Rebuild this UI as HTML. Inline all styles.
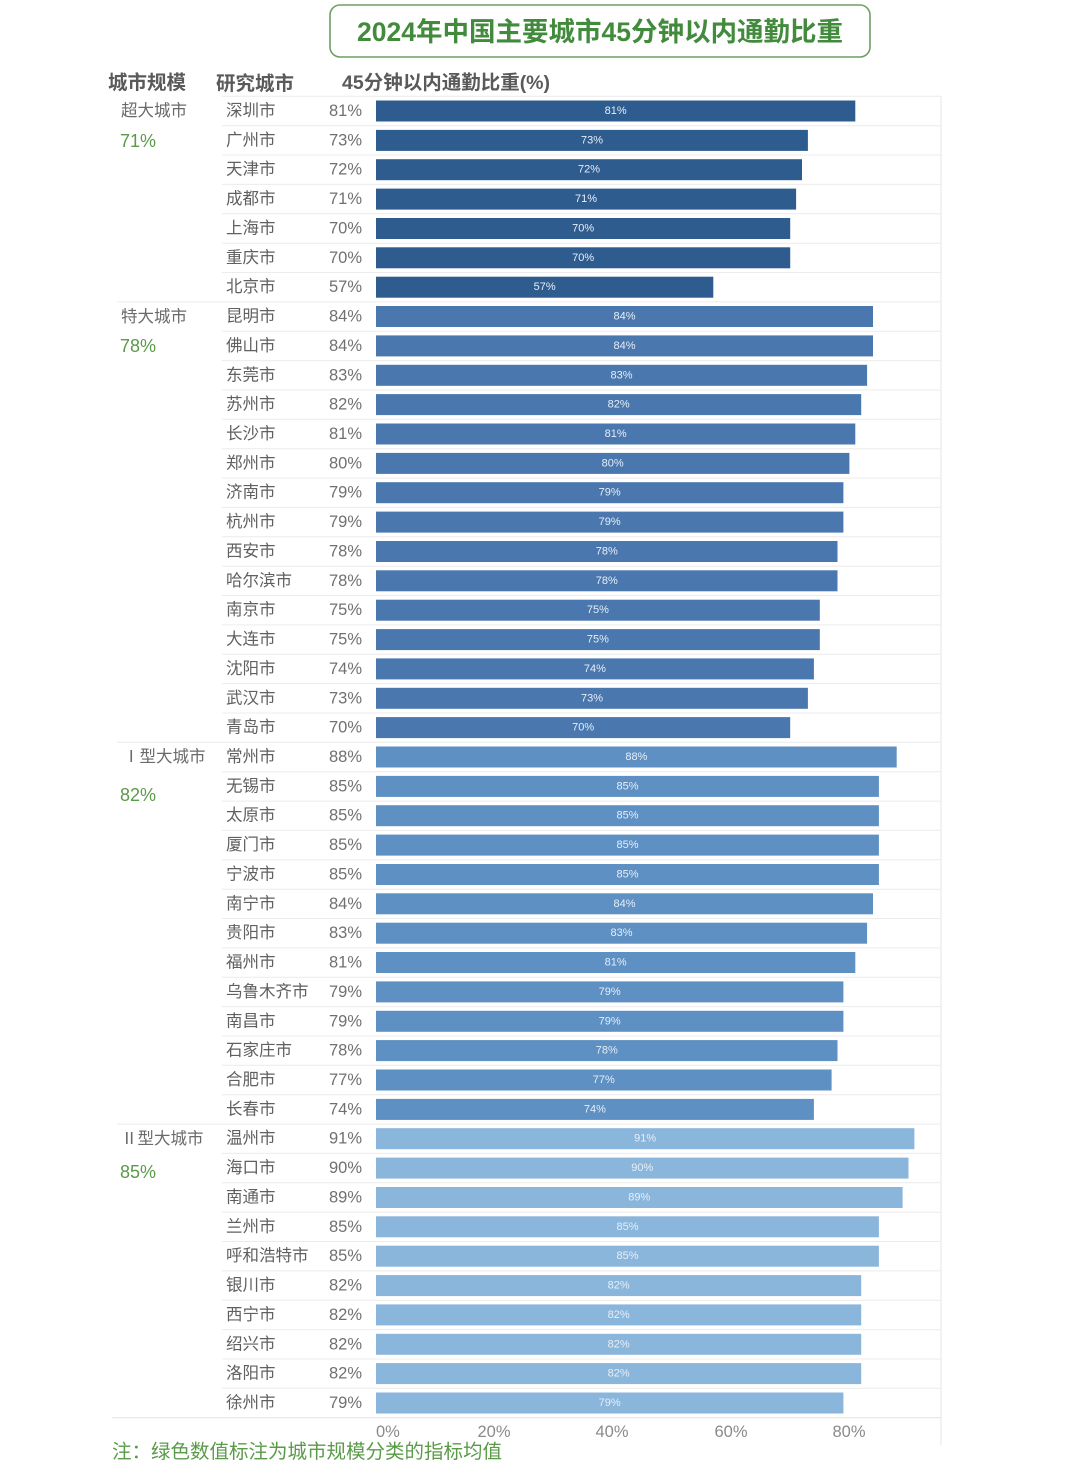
<!DOCTYPE html>
<html>
<head>
<meta charset="utf-8">
<style>
html,body{margin:0;padding:0;background:#fff;}
svg{display:block;}
text{font-family:"Liberation Sans","Noto Sans CJK SC",sans-serif;dominant-baseline:central;}
.c{font-size:16.5px;fill:#606060;}
.v{font-size:16.5px;fill:#707070;text-anchor:end;}
.b{font-size:11px;fill:#e6eef7;text-anchor:middle;}
.g{font-size:16.5px;fill:#6a6a6a;}
.p{font-size:18px;fill:#5a9a48;}
.h{font-size:19.5px;font-weight:bold;fill:#5a5a5a;}
.t{font-size:16.5px;fill:#8a8a8a;}
.s{stroke:#ececec;stroke-width:1;}
.c1{fill:#2f5c8f;}
.c2{fill:#4a78ae;}
.c3{fill:#5e90c3;}
.c4{fill:#8bb6dc;}
</style>
</head>
<body>
<svg width="1080" height="1474" viewBox="0 0 1080 1474" xmlns="http://www.w3.org/2000/svg">
<rect x="0" y="0" width="1080" height="1474" fill="#fff"/>
<!-- title -->
<rect x="330" y="5" width="540" height="52" rx="10" ry="10" fill="#fff" stroke="#6f9d62" stroke-width="1.6"/>
<text x="600" y="32" text-anchor="middle" style="font-size:26.5px;font-weight:bold;fill:#428a3c;">2024年中国主要城市45分钟以内通勤比重</text>
<!-- headers -->
<text x="108" y="83" class="h">城市规模</text>
<text x="216" y="84" class="h">研究城市</text>
<text x="342" y="83" class="h">45分钟以内通勤比重(%)</text>

<!-- grid lines -->
<line x1="941" y1="96" x2="941" y2="1445" stroke="#e4e4e4" stroke-width="1"/>
<line x1="222" y1="96.3" x2="941" y2="96.3" class="s"/>
<line x1="222" y1="125.7" x2="941" y2="125.7" class="s"/>
<line x1="222" y1="155.0" x2="941" y2="155.0" class="s"/>
<line x1="222" y1="184.4" x2="941" y2="184.4" class="s"/>
<line x1="222" y1="213.8" x2="941" y2="213.8" class="s"/>
<line x1="222" y1="243.2" x2="941" y2="243.2" class="s"/>
<line x1="222" y1="272.5" x2="941" y2="272.5" class="s"/>
<line x1="117" y1="301.9" x2="941" y2="301.9" class="s"/>
<line x1="222" y1="331.2" x2="941" y2="331.2" class="s"/>
<line x1="222" y1="360.6" x2="941" y2="360.6" class="s"/>
<line x1="222" y1="390.0" x2="941" y2="390.0" class="s"/>
<line x1="222" y1="419.3" x2="941" y2="419.3" class="s"/>
<line x1="222" y1="448.7" x2="941" y2="448.7" class="s"/>
<line x1="222" y1="478.1" x2="941" y2="478.1" class="s"/>
<line x1="222" y1="507.4" x2="941" y2="507.4" class="s"/>
<line x1="222" y1="536.8" x2="941" y2="536.8" class="s"/>
<line x1="222" y1="566.2" x2="941" y2="566.2" class="s"/>
<line x1="222" y1="595.5" x2="941" y2="595.5" class="s"/>
<line x1="222" y1="624.9" x2="941" y2="624.9" class="s"/>
<line x1="222" y1="654.3" x2="941" y2="654.3" class="s"/>
<line x1="222" y1="683.6" x2="941" y2="683.6" class="s"/>
<line x1="222" y1="713.0" x2="941" y2="713.0" class="s"/>
<line x1="117" y1="742.3" x2="941" y2="742.3" class="s"/>
<line x1="222" y1="771.7" x2="941" y2="771.7" class="s"/>
<line x1="222" y1="801.1" x2="941" y2="801.1" class="s"/>
<line x1="222" y1="830.4" x2="941" y2="830.4" class="s"/>
<line x1="222" y1="859.8" x2="941" y2="859.8" class="s"/>
<line x1="222" y1="889.2" x2="941" y2="889.2" class="s"/>
<line x1="222" y1="918.5" x2="941" y2="918.5" class="s"/>
<line x1="222" y1="947.9" x2="941" y2="947.9" class="s"/>
<line x1="222" y1="977.2" x2="941" y2="977.2" class="s"/>
<line x1="222" y1="1006.6" x2="941" y2="1006.6" class="s"/>
<line x1="222" y1="1036.0" x2="941" y2="1036.0" class="s"/>
<line x1="222" y1="1065.3" x2="941" y2="1065.3" class="s"/>
<line x1="222" y1="1094.7" x2="941" y2="1094.7" class="s"/>
<line x1="117" y1="1124.1" x2="941" y2="1124.1" class="s"/>
<line x1="222" y1="1153.4" x2="941" y2="1153.4" class="s"/>
<line x1="222" y1="1182.8" x2="941" y2="1182.8" class="s"/>
<line x1="222" y1="1212.2" x2="941" y2="1212.2" class="s"/>
<line x1="222" y1="1241.5" x2="941" y2="1241.5" class="s"/>
<line x1="222" y1="1270.9" x2="941" y2="1270.9" class="s"/>
<line x1="222" y1="1300.3" x2="941" y2="1300.3" class="s"/>
<line x1="222" y1="1329.6" x2="941" y2="1329.6" class="s"/>
<line x1="222" y1="1359.0" x2="941" y2="1359.0" class="s"/>
<line x1="222" y1="1388.3" x2="941" y2="1388.3" class="s"/>
<line x1="112" y1="1417.7" x2="941" y2="1417.7" stroke="#e2e2e2" stroke-width="1"/>

<!-- group labels -->
<text x="121" y="111" class="g">超大城市</text>
<text x="120" y="141" class="p">71%</text>
<text x="121" y="317" class="g">特大城市</text>
<text x="120" y="346" class="p">78%</text>
<text x="123" y="757" class="g">Ⅰ型大城市</text>
<text x="120" y="795" class="p">82%</text>
<text x="121" y="1139" class="g">Ⅱ型大城市</text>
<text x="120" y="1172" class="p">85%</text>

<!-- Group 1 -->
<text x="226" y="111.0" class="c">深圳市</text><text x="362" y="111.0" class="v">81%</text><rect x="376" y="100.5" width="479.3" height="21" class="c1"/><text x="615.6" y="111.0" class="b">81%</text>
<text x="226" y="140.4" class="c">广州市</text><text x="362" y="140.4" class="v">73%</text><rect x="376" y="129.9" width="431.9" height="21" class="c1"/><text x="592.0" y="140.4" class="b">73%</text>
<text x="226" y="169.7" class="c">天津市</text><text x="362" y="169.7" class="v">72%</text><rect x="376" y="159.2" width="426.0" height="21" class="c1"/><text x="589.0" y="169.7" class="b">72%</text>
<text x="226" y="199.1" class="c">成都市</text><text x="362" y="199.1" class="v">71%</text><rect x="376" y="188.6" width="420.1" height="21" class="c1"/><text x="586.0" y="199.1" class="b">71%</text>
<text x="226" y="228.5" class="c">上海市</text><text x="362" y="228.5" class="v">70%</text><rect x="376" y="218.0" width="414.2" height="21" class="c1"/><text x="583.1" y="228.5" class="b">70%</text>
<text x="226" y="257.8" class="c">重庆市</text><text x="362" y="257.8" class="v">70%</text><rect x="376" y="247.3" width="414.2" height="21" class="c1"/><text x="583.1" y="257.8" class="b">70%</text>
<text x="226" y="287.2" class="c">北京市</text><text x="362" y="287.2" class="v">57%</text><rect x="376" y="276.7" width="337.3" height="21" class="c1"/><text x="544.6" y="287.2" class="b">57%</text>

<!-- Group 2 -->
<text x="226" y="316.5" class="c">昆明市</text><text x="362" y="316.5" class="v">84%</text><rect x="376" y="306.0" width="497.0" height="21" class="c2"/><text x="624.5" y="316.5" class="b">84%</text>
<text x="226" y="345.9" class="c">佛山市</text><text x="362" y="345.9" class="v">84%</text><rect x="376" y="335.4" width="497.0" height="21" class="c2"/><text x="624.5" y="345.9" class="b">84%</text>
<text x="226" y="375.3" class="c">东莞市</text><text x="362" y="375.3" class="v">83%</text><rect x="376" y="364.8" width="491.1" height="21" class="c2"/><text x="621.5" y="375.3" class="b">83%</text>
<text x="226" y="404.6" class="c">苏州市</text><text x="362" y="404.6" class="v">82%</text><rect x="376" y="394.1" width="485.2" height="21" class="c2"/><text x="618.6" y="404.6" class="b">82%</text>
<text x="226" y="434.0" class="c">长沙市</text><text x="362" y="434.0" class="v">81%</text><rect x="376" y="423.5" width="479.3" height="21" class="c2"/><text x="615.6" y="434.0" class="b">81%</text>
<text x="226" y="463.4" class="c">郑州市</text><text x="362" y="463.4" class="v">80%</text><rect x="376" y="452.9" width="473.4" height="21" class="c2"/><text x="612.7" y="463.4" class="b">80%</text>
<text x="226" y="492.7" class="c">济南市</text><text x="362" y="492.7" class="v">79%</text><rect x="376" y="482.2" width="467.4" height="21" class="c2"/><text x="609.7" y="492.7" class="b">79%</text>
<text x="226" y="522.1" class="c">杭州市</text><text x="362" y="522.1" class="v">79%</text><rect x="376" y="511.6" width="467.4" height="21" class="c2"/><text x="609.7" y="522.1" class="b">79%</text>
<text x="226" y="551.5" class="c">西安市</text><text x="362" y="551.5" class="v">78%</text><rect x="376" y="541.0" width="461.5" height="21" class="c2"/><text x="606.8" y="551.5" class="b">78%</text>
<text x="226" y="580.8" class="c">哈尔滨市</text><text x="362" y="580.8" class="v">78%</text><rect x="376" y="570.3" width="461.5" height="21" class="c2"/><text x="606.8" y="580.8" class="b">78%</text>
<text x="226" y="610.2" class="c">南京市</text><text x="362" y="610.2" class="v">75%</text><rect x="376" y="599.7" width="443.8" height="21" class="c2"/><text x="597.9" y="610.2" class="b">75%</text>
<text x="226" y="639.6" class="c">大连市</text><text x="362" y="639.6" class="v">75%</text><rect x="376" y="629.1" width="443.8" height="21" class="c2"/><text x="597.9" y="639.6" class="b">75%</text>
<text x="226" y="668.9" class="c">沈阳市</text><text x="362" y="668.9" class="v">74%</text><rect x="376" y="658.4" width="437.9" height="21" class="c2"/><text x="594.9" y="668.9" class="b">74%</text>
<text x="226" y="698.3" class="c">武汉市</text><text x="362" y="698.3" class="v">73%</text><rect x="376" y="687.8" width="431.9" height="21" class="c2"/><text x="592.0" y="698.3" class="b">73%</text>
<text x="226" y="727.6" class="c">青岛市</text><text x="362" y="727.6" class="v">70%</text><rect x="376" y="717.1" width="414.2" height="21" class="c2"/><text x="583.1" y="727.6" class="b">70%</text>

<!-- Group 3 -->
<text x="226" y="757.0" class="c">常州市</text><text x="362" y="757.0" class="v">88%</text><rect x="376" y="746.5" width="520.7" height="21" class="c3"/><text x="636.4" y="757.0" class="b">88%</text>
<text x="226" y="786.4" class="c">无锡市</text><text x="362" y="786.4" class="v">85%</text><rect x="376" y="775.9" width="502.9" height="21" class="c3"/><text x="627.5" y="786.4" class="b">85%</text>
<text x="226" y="815.7" class="c">太原市</text><text x="362" y="815.7" class="v">85%</text><rect x="376" y="805.2" width="502.9" height="21" class="c3"/><text x="627.5" y="815.7" class="b">85%</text>
<text x="226" y="845.1" class="c">厦门市</text><text x="362" y="845.1" class="v">85%</text><rect x="376" y="834.6" width="502.9" height="21" class="c3"/><text x="627.5" y="845.1" class="b">85%</text>
<text x="226" y="874.5" class="c">宁波市</text><text x="362" y="874.5" class="v">85%</text><rect x="376" y="864.0" width="502.9" height="21" class="c3"/><text x="627.5" y="874.5" class="b">85%</text>
<text x="226" y="903.8" class="c">南宁市</text><text x="362" y="903.8" class="v">84%</text><rect x="376" y="893.3" width="497.0" height="21" class="c3"/><text x="624.5" y="903.8" class="b">84%</text>
<text x="226" y="933.2" class="c">贵阳市</text><text x="362" y="933.2" class="v">83%</text><rect x="376" y="922.7" width="491.1" height="21" class="c3"/><text x="621.5" y="933.2" class="b">83%</text>
<text x="226" y="962.5" class="c">福州市</text><text x="362" y="962.5" class="v">81%</text><rect x="376" y="952.0" width="479.3" height="21" class="c3"/><text x="615.6" y="962.5" class="b">81%</text>
<text x="226" y="991.9" class="c">乌鲁木齐市</text><text x="362" y="991.9" class="v">79%</text><rect x="376" y="981.4" width="467.4" height="21" class="c3"/><text x="609.7" y="991.9" class="b">79%</text>
<text x="226" y="1021.3" class="c">南昌市</text><text x="362" y="1021.3" class="v">79%</text><rect x="376" y="1010.8" width="467.4" height="21" class="c3"/><text x="609.7" y="1021.3" class="b">79%</text>
<text x="226" y="1050.6" class="c">石家庄市</text><text x="362" y="1050.6" class="v">78%</text><rect x="376" y="1040.1" width="461.5" height="21" class="c3"/><text x="606.8" y="1050.6" class="b">78%</text>
<text x="226" y="1080.0" class="c">合肥市</text><text x="362" y="1080.0" class="v">77%</text><rect x="376" y="1069.5" width="455.6" height="21" class="c3"/><text x="603.8" y="1080.0" class="b">77%</text>
<text x="226" y="1109.4" class="c">长春市</text><text x="362" y="1109.4" class="v">74%</text><rect x="376" y="1098.9" width="437.9" height="21" class="c3"/><text x="594.9" y="1109.4" class="b">74%</text>

<!-- Group 4 -->
<text x="226" y="1138.7" class="c">温州市</text><text x="362" y="1138.7" class="v">91%</text><rect x="376" y="1128.2" width="538.4" height="21" class="c4"/><text x="645.2" y="1138.7" class="b">91%</text>
<text x="226" y="1168.1" class="c">海口市</text><text x="362" y="1168.1" class="v">90%</text><rect x="376" y="1157.6" width="532.5" height="21" class="c4"/><text x="642.3" y="1168.1" class="b">90%</text>
<text x="226" y="1197.5" class="c">南通市</text><text x="362" y="1197.5" class="v">89%</text><rect x="376" y="1187.0" width="526.6" height="21" class="c4"/><text x="639.3" y="1197.5" class="b">89%</text>
<text x="226" y="1226.8" class="c">兰州市</text><text x="362" y="1226.8" class="v">85%</text><rect x="376" y="1216.3" width="502.9" height="21" class="c4"/><text x="627.5" y="1226.8" class="b">85%</text>
<text x="226" y="1256.2" class="c">呼和浩特市</text><text x="362" y="1256.2" class="v">85%</text><rect x="376" y="1245.7" width="502.9" height="21" class="c4"/><text x="627.5" y="1256.2" class="b">85%</text>
<text x="226" y="1285.6" class="c">银川市</text><text x="362" y="1285.6" class="v">82%</text><rect x="376" y="1275.1" width="485.2" height="21" class="c4"/><text x="618.6" y="1285.6" class="b">82%</text>
<text x="226" y="1314.9" class="c">西宁市</text><text x="362" y="1314.9" class="v">82%</text><rect x="376" y="1304.4" width="485.2" height="21" class="c4"/><text x="618.6" y="1314.9" class="b">82%</text>
<text x="226" y="1344.3" class="c">绍兴市</text><text x="362" y="1344.3" class="v">82%</text><rect x="376" y="1333.8" width="485.2" height="21" class="c4"/><text x="618.6" y="1344.3" class="b">82%</text>
<text x="226" y="1373.6" class="c">洛阳市</text><text x="362" y="1373.6" class="v">82%</text><rect x="376" y="1363.1" width="485.2" height="21" class="c4"/><text x="618.6" y="1373.6" class="b">82%</text>
<text x="226" y="1403.0" class="c">徐州市</text><text x="362" y="1403.0" class="v">79%</text><rect x="376" y="1392.5" width="467.4" height="21" class="c4"/><text x="609.7" y="1403.0" class="b">79%</text>

<!-- axis ticks -->
<text x="376" y="1432" class="t">0%</text>
<text x="494" y="1432" class="t" text-anchor="middle">20%</text>
<text x="612" y="1432" class="t" text-anchor="middle">40%</text>
<text x="731" y="1432" class="t" text-anchor="middle">60%</text>
<text x="849" y="1432" class="t" text-anchor="middle">80%</text>

<!-- footnote -->
<text x="112" y="1452" style="font-size:19.5px;fill:#5a9a48;">注：绿色数值标注为城市规模分类的指标均值</text>
</svg>
</body>
</html>
